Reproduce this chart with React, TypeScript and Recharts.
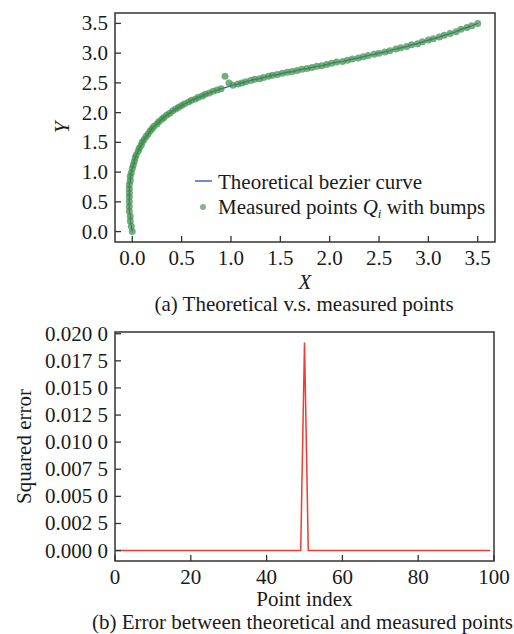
import { ComposedChart, LineChart, Line, Scatter, XAxis, YAxis, ReferenceArea } from 'recharts'

// (a) theoretical bezier curve
const curveX = [
  0, -0.01, -0.02, -0.02, -0.03, -0.03, -0.03, -0.03, -0.03, -0.03,
  -0.03, -0.02, -0.02, -0.01, 0, 0.01, 0.02, 0.03, 0.04, 0.06,
  0.07, 0.09, 0.1, 0.12, 0.14, 0.16, 0.18, 0.2, 0.22, 0.25,
  0.27, 0.3, 0.32, 0.35, 0.38, 0.41, 0.44, 0.47, 0.5, 0.53,
  0.57, 0.6, 0.64, 0.67, 0.71, 0.74, 0.78, 0.82, 0.86, 0.9,
  0.94, 0.98, 1.02, 1.07, 1.11, 1.15, 1.2, 1.24, 1.29, 1.33,
  1.38, 1.42, 1.47, 1.52, 1.57, 1.62, 1.67, 1.72, 1.77, 1.82,
  1.87, 1.92, 1.97, 2.02, 2.07, 2.13, 2.18, 2.23, 2.29, 2.34,
  2.39, 2.45, 2.5, 2.56, 2.61, 2.67, 2.72, 2.78, 2.83, 2.89,
  2.94, 3.0, 3.05, 3.11, 3.16, 3.22, 3.28, 3.33, 3.39, 3.44, 3.5,
]
const curveY = [
  0, 0.09, 0.18, 0.26, 0.34, 0.42, 0.5, 0.58, 0.65, 0.72,
  0.79, 0.86, 0.93, 0.99, 1.06, 1.12, 1.18, 1.24, 1.29, 1.35,
  1.4, 1.45, 1.5, 1.55, 1.6, 1.64, 1.69, 1.73, 1.77, 1.81,
  1.85, 1.89, 1.92, 1.96, 1.99, 2.03, 2.06, 2.09, 2.12, 2.15,
  2.18, 2.21, 2.23, 2.26, 2.28, 2.31, 2.33, 2.36, 2.38, 2.4,
  2.42, 2.44, 2.46, 2.48, 2.5, 2.52, 2.54, 2.56, 2.57, 2.59,
  2.61, 2.63, 2.64, 2.66, 2.68, 2.69, 2.71, 2.73, 2.74, 2.76,
  2.78, 2.79, 2.81, 2.83, 2.85, 2.86, 2.88, 2.9, 2.92, 2.94,
  2.96, 2.98, 3.0, 3.02, 3.04, 3.07, 3.09, 3.11, 3.14, 3.16,
  3.19, 3.22, 3.24, 3.27, 3.3, 3.33, 3.36, 3.4, 3.43, 3.46, 3.5,
]
// measured points equal the curve except for the bumps
const bumpIndex = [50, 51]
const bumpY = [2.61, 2.5]

const axisTicksA = [0, 0.5, 1, 1.5, 2, 2.5, 3, 3.5]

// (b) squared error
const errIndex = [0, 49, 50, 51, 99]
const errValue = [0, 0, 0.0192, 0, 0]
const errXTicks = [0, 20, 40, 60, 80, 100]
const errYTicks = [0, 0.0025, 0.005, 0.0075, 0.01, 0.0125, 0.015, 0.0175, 0.02]

const FONT = '"Liberation Serif", "Times New Roman", serif'
const FS = 21
const FRAME = '#333'
const TXT = '#1a1a1a'
const GREEN = '#3f8f4b'

const curveData = curveX.map((x, i) => ({ x, y: curveY[i] }))
const measuredData = curveData.map((p, i) => {
  const k = bumpIndex.indexOf(i)
  return k >= 0 ? { x: p.x, y: bumpY[k] } : p
})
const errData = errIndex.map((i, k) => ({ i, e: errValue[k] }))

const fmtA = (v: number) => v.toFixed(1)
const fmtErr = (v: number) => {
  const s = v.toFixed(4)
  return s.slice(0, 5) + ' ' + s.slice(5)
}

function XTick(props: any) {
  const { x, y, payload, fmt } = props
  return (
    <g>
      <line x1={x} y1={y} x2={x} y2={y - 6} stroke={FRAME} strokeWidth={1.3} />
      <text x={x} y={y + 23} textAnchor="middle" fontSize={FS} fontFamily={FONT} fill={TXT}>
        {fmt(payload.value)}
      </text>
    </g>
  )
}

function YTick(props: any) {
  const { x, y, payload, fmt } = props
  return (
    <g>
      <line x1={x} y1={y} x2={x + 6} y2={y} stroke={FRAME} strokeWidth={1.3} />
      <text x={x - 7} y={y + 7} textAnchor="end" fontSize={FS} fontFamily={FONT} fill={TXT}>
        {fmt(payload.value)}
      </text>
    </g>
  )
}

const dot = (p: any) => <circle cx={p.cx} cy={p.cy} r={3.5} fill={GREEN} fillOpacity={0.72} />

export default function App() {
  return (
    <div style={{ position: 'absolute', left: 0, top: 0, width: 514, height: 634, overflow: 'hidden', background: '#fff', fontFamily: FONT }}>
      <div style={{ position: 'absolute', left: 0, top: 0 }}>
        <ComposedChart width={514} height={300} margin={{ top: 13, right: 19, left: 0, bottom: 0 }}>
          <XAxis
            type="number"
            dataKey="x"
            domain={[-0.175, 3.675]}
            ticks={axisTicksA}
            allowDataOverflow
            axisLine={false}
            tickLine={false}
            tickSize={0}
            tickMargin={0}
            height={58}
            tick={(p: any) => <XTick {...p} fmt={fmtA} />}
            label={{
              content: (p: any) => (
                <text x={p.viewBox.x + p.viewBox.width / 2} y={p.viewBox.y + 47} textAnchor="middle" fontSize={FS} fontStyle="italic" fontFamily={FONT} fill={TXT}>
                  X
                </text>
              ),
            }}
          />
          <YAxis
            type="number"
            domain={[-0.175, 3.675]}
            ticks={axisTicksA}
            allowDataOverflow
            axisLine={false}
            tickLine={false}
            tickSize={0}
            tickMargin={0}
            width={115}
            tick={(p: any) => <YTick {...p} fmt={fmtA} />}
            label={{
              content: (p: any) => {
                const cx = p.viewBox.x + 69
                const cy = p.viewBox.y + p.viewBox.height / 2
                return (
                  <text x={cx} y={cy} transform={`rotate(-90 ${cx} ${cy})`} textAnchor="middle" fontSize={FS} fontStyle="italic" fontFamily={FONT} fill={TXT}>
                    Y
                  </text>
                )
              },
            }}
          />
          <Line data={curveData} dataKey="y" type="linear" stroke="#2448d8" strokeWidth={1.2} dot={false} isAnimationActive={false} />
          <Scatter data={measuredData} dataKey="y" shape={dot} isAnimationActive={false} />
          <ReferenceArea x1={-0.175} x2={3.675} y1={-0.175} y2={3.675} fill="none" stroke={FRAME} strokeWidth={1.5} ifOverflow="visible" />
        </ComposedChart>
      </div>

      <div style={{ position: 'absolute', left: 0, top: 300 }}>
        <LineChart width={514} height={334} data={errData} margin={{ top: 32, right: 20, left: 0, bottom: 0 }}>
          <XAxis
            type="number"
            dataKey="i"
            domain={[0, 100]}
            ticks={errXTicks}
            allowDataOverflow
            axisLine={false}
            tickLine={false}
            tickSize={0}
            tickMargin={0}
            height={73}
            tick={(p: any) => <XTick {...p} fmt={(v: number) => String(v)} />}
            label={{
              content: (p: any) => (
                <text x={p.viewBox.x + p.viewBox.width / 2} y={p.viewBox.y + 45} textAnchor="middle" fontSize={FS} fontFamily={FONT} fill={TXT}>
                  Point index
                </text>
              ),
            }}
          />
          <YAxis
            type="number"
            domain={[-0.00096, 0.02016]}
            ticks={errYTicks}
            allowDataOverflow
            axisLine={false}
            tickLine={false}
            tickSize={0}
            tickMargin={0}
            width={115}
            tick={(p: any) => <YTick {...p} fmt={fmtErr} />}
            label={{
              content: (p: any) => {
                const cx = p.viewBox.x + 31
                const cy = p.viewBox.y + p.viewBox.height / 2
                return (
                  <text x={cx} y={cy} transform={`rotate(-90 ${cx} ${cy})`} textAnchor="middle" fontSize={FS} fontFamily={FONT} fill={TXT}>
                    Squared error
                  </text>
                )
              },
            }}
          />
          <Line dataKey="e" type="linear" stroke="#f23a2e" strokeWidth={1.5} dot={false} isAnimationActive={false} />
          <ReferenceArea x1={0} x2={100} y1={-0.00096} y2={0.02016} fill="none" stroke={FRAME} strokeWidth={1.5} ifOverflow="visible" />
        </LineChart>
      </div>

      <svg width={514} height={634} style={{ position: 'absolute', left: 0, top: 0, pointerEvents: 'none' }}>
        <line x1={195} y1={181} x2={212} y2={181} stroke="#2448d8" strokeWidth={1.3} />
        <text x={218} y={189} fontSize={FS} fontFamily={FONT} fill={TXT}>Theoretical bezier curve</text>
        <circle cx={203} cy={207} r={3} fill={GREEN} fillOpacity={0.65} />
        <text x={218} y={214} fontSize={FS} fontFamily={FONT} fill={TXT}>
          Measured points <tspan fontStyle="italic">Q</tspan>
          <tspan fontStyle="italic" fontSize={13} dy={4}>i</tspan>
          <tspan dy={-4}> with bumps</tspan>
        </text>
        <text x={304} y={311} textAnchor="middle" fontSize={FS} fontFamily={FONT} fill={TXT}>
          (a) Theoretical v.s. measured points
        </text>
        <text x={92} y={629} fontSize={FS} fontFamily={FONT} fill={TXT}>
          (b) Error between theoretical and measured points
        </text>
      </svg>
    </div>
  )
}
